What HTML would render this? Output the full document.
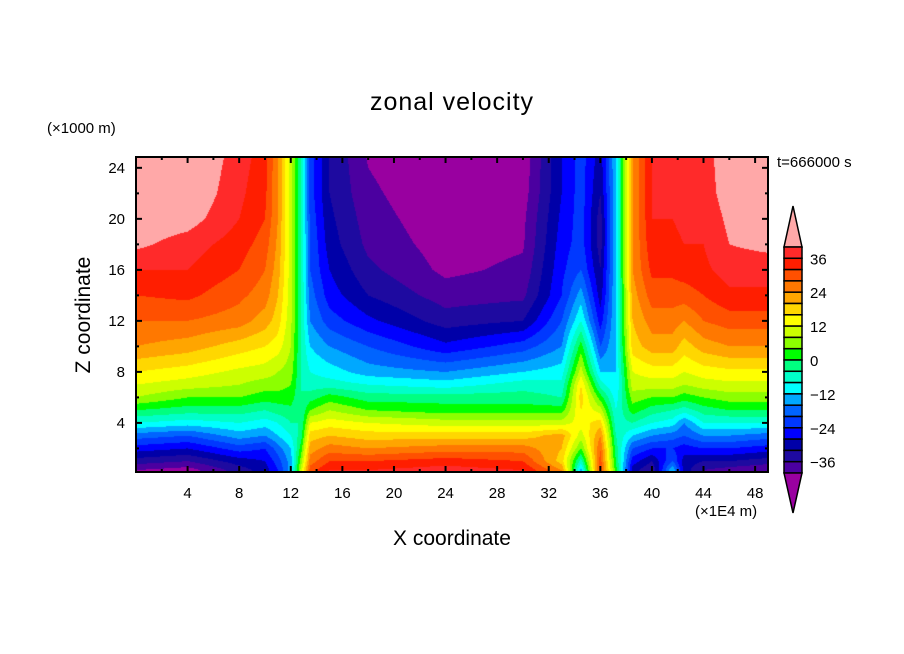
<!DOCTYPE html>
<html><head><meta charset="utf-8"><style>
body{margin:0;background:#fff;}
#wrap{position:relative;width:904px;height:654px;overflow:hidden;font-family:"Liberation Sans","DejaVu Sans",sans-serif;color:#000;}
.t{position:absolute;white-space:nowrap;}
</style></head><body>
<div id="wrap">
<div class="t" style="left:0;width:904px;top:88px;text-align:center;font-size:25px;letter-spacing:1px;">zonal velocity</div>
<div class="t" style="left:47px;top:120px;font-size:15px;">(×1000 m)</div>
<div class="t" style="left:777px;top:154px;font-size:15px;">t=666000 s</div>
<div class="t" style="left:84px;top:315px;font-size:21px;transform:translate(-50%,-50%) rotate(-90deg);">Z coordinate</div>
<div class="t" style="left:0;width:904px;top:527px;text-align:center;font-size:21px;">X coordinate</div>
<div class="t" style="left:695px;top:503px;font-size:15px;">(×1E4 m)</div>
<canvas id="cv" width="632" height="315" style="position:absolute;left:136px;top:157px;"></canvas>
<svg id="sv" width="904" height="654" style="position:absolute;left:0;top:0;"></svg>
</div>
<script>
const xCols=[0,4,8,10,11,12,12.8,13.5,15,18,24,30,33,34.5,36,37.2,38.5,40,41.6,42.5,44,46,49];
const zRows=[0.3,1,2,3,4,5,6,7,8,10,12,14,16,18,20,22,25];
const vals=[
[-40,-34,-26,-18,-8,0,8,12,16,24,28,32,36,41,43,44,45],
[-42,-36,-28,-20,-10,-2,4,10,14,22,28,33,36,38,42,44,45],
[-34,-30,-22,-14,-8,-2,4,8,11,18,26,29,32,34,36,37,38],
[-30,-28,-24,-16,-10,-4,2,6,10,16,22,26,28,30,32,33,34],
[-24,-22,-18,-12,-8,-2,2,6,8,14,18,20,22,23,24,24,24],
[-14,-14,-12,-8,-4,-1,2,4,6,8,9,10,10,10,10,10,10],
[10,6,2,-2,-4,-4,-4,-4,-4,-4,-4,-4,-4,-4,-4,-4,-4],
[30,26,22,18,12,4,-2,-6,-8,-12,-16,-18,-20,-20,-21,-22,-22],
[36,32,26,20,14,8,2,-6,-10,-16,-22,-26,-28,-30,-31,-32,-32],
[36,32,24,18,12,4,-2,-8,-14,-20,-27,-32,-35,-37,-38,-39,-40.5],
[38,34,26,18,10,2,-2,-10,-16,-27,-34,-38,-41,-42,-43,-44,-45],
[36,32,26,18,10,2,-2,-6,-12,-22,-32,-37,-39,-40.5,-41,-42,-43],
[24,18,20,22,10,2,-4,-7,-10,-16,-20,-24,-25,-26,-27,-28,-28],
[-14,-6,4,10,14,16,18,16,10,2,-8,-14,-20,-22,-22,-22,-22],
[32,30,28,24,18,10,2,-6,-12,-20,-26,-30,-32,-34,-34,-32,-30],
[2,0,-2,-4,-6,-8,-10,-12,-12,-12,-12,-12,-12,-12,-12,-12,-12],
[-30,-26,-20,-12,-4,2,6,10,12,18,20,22,24,24,24,24,24],
[-36,-32,-24,-16,-8,-2,4,10,14,22,26,30,33,35,36,36,36],
[-12,-20,-24,-18,-10,-4,4,10,14,22,26,30,33,35,36,37,37],
[-30,-30,-26,-20,-16,-6,2,8,12,18,24,30,34,36,37,37,38],
[-36,-32,-24,-16,-8,-2,4,10,14,22,28,32,35,36,37,38,38],
[-38,-32,-24,-16,-8,0,6,11,15,24,30,35,38,40,41,42,43],
[-40,-34,-26,-18,-8,0,6,11,15,24,30,35,38,41,42,43,44]];
const levelColors=["#4b00a0","#1e0aa0","#0000a8","#0000ff","#0038ff","#0064ff","#00a8ff","#00ffff","#00ffc8","#00ff80","#00ff00","#8cff00","#ccff00","#ffff00","#ffd700","#ffa500","#ff7800","#ff5000","#ff1e00","#ff2a2a"];
const lowColor="#9900a0", highColor="#ffa8a8";
const xTicks=[4,8,12,16,20,24,28,32,36,40,44,48];
const yTicks=[4,8,12,16,20,24];
const cbLabels=[36,24,12,0,-12,-24,-36];

const PX0=136,PX1=768,PY0=157,PY1=472,XMIN=0,XMAX=49,ZMIN=0.15,ZMAX=24.85;
const sx=x=>PX0+(x-XMIN)/(XMAX-XMIN)*(PX1-PX0);
const sy=z=>PY1-(z-ZMIN)/(ZMAX-ZMIN)*(PY1-PY0);
function seg(a,v){let i=0;while(i<a.length-2&&v>a[i+1])i++;let t=(v-a[i])/(a[i+1]-a[i]);return [i,Math.max(0,Math.min(1,t))];}
function field(x,z){const[i,tx]=seg(xCols,x),[j,tz]=seg(zRows,z);
const a=vals[i][j],b=vals[i+1][j],c=vals[i][j+1],d=vals[i+1][j+1];
return (a*(1-tx)+b*tx)*(1-tz)+(c*(1-tx)+d*tx)*tz;}
function colorOf(v){if(v<-40)return lowColor;if(v>=40)return highColor;return levelColors[Math.floor((v+40)/4)];}
function hex(c){return[parseInt(c.slice(1,3),16),parseInt(c.slice(3,5),16),parseInt(c.slice(5,7),16)];}
const cv=document.getElementById('cv'),ctx=cv.getContext('2d');
const W=cv.width,H=cv.height,img=ctx.createImageData(W,H);
for(let py=0;py<H;py++){const z=ZMAX-(py+0.5)/H*(ZMAX-ZMIN);
for(let px=0;px<W;px++){const x=XMIN+(px+0.5)/W*(XMAX-XMIN);
const c=hex(colorOf(field(x,z)));const k=(py*W+px)*4;
img.data[k]=c[0];img.data[k+1]=c[1];img.data[k+2]=c[2];img.data[k+3]=255;}}
ctx.putImageData(img,0,0);

const NS="http://www.w3.org/2000/svg",sv=document.getElementById('sv');
function mk(t,at,txt){const e=document.createElementNS(NS,t);for(const k in at)e.setAttribute(k,at[k]);if(txt!=null)e.textContent=txt;sv.appendChild(e);return e;}
let fr=mk('rect',{x:PX0,y:PY0,width:PX1-PX0,height:PY1-PY0,fill:'none',stroke:'#000','stroke-width':2});


for(let x=2;x<49;x+=2){const X=sx(x),L=(x%4===0)?6:3;
let t1=mk('line',{x1:X,x2:X,y1:PY1,y2:PY1-L,stroke:'#000','stroke-width':2});


let t2=mk('line',{x1:X,x2:X,y1:PY0,y2:PY0+L,stroke:'#000','stroke-width':2});

}
for(let z=2;z<25;z+=2){const Y=sy(z),L=(z%4===0)?6:3;
let t1=mk('line',{x1:PX0,x2:PX0+L,y1:Y,y2:Y,stroke:'#000','stroke-width':2});


let t2=mk('line',{x1:PX1,x2:PX1-L,y1:Y,y2:Y,stroke:'#000','stroke-width':2});

}
xTicks.forEach(v=>{let e=mk('text',{x:sx(v),y:498,'text-anchor':'middle','font-size':15,'font-family':'Liberation Sans, sans-serif'},String(v));

});
yTicks.forEach(v=>{let e=mk('text',{x:125,y:sy(v)+5,'text-anchor':'end','font-size':15,'font-family':'Liberation Sans, sans-serif'},String(v));

});
const CX0=784,CX1=802,CY0=247,CB=11.3;
let up=mk('polygon',{points:`${CX0},${CY0} ${CX1},${CY0} ${(CX0+CX1)/2},206`,fill:highColor,stroke:'#000','stroke-width':1.5});


for(let i=0;i<levelColors.length;i++){const idx=levelColors.length-1-i;
let r=mk('rect',{x:CX0,y:CY0+i*CB,width:CX1-CX0,height:CB,fill:levelColors[idx],stroke:'#000','stroke-width':1.5});

}
const CY1=CY0+levelColors.length*CB;
let dn=mk('polygon',{points:`${CX0},${CY1} ${CX1},${CY1} ${(CX0+CX1)/2},513`,fill:lowColor,stroke:'#000','stroke-width':1.5});


cbLabels.forEach(v=>{const Y=CY0+(40-v)/4*CB;
let e=mk('text',{x:810,y:Y+6,'font-size':15,'font-family':'Liberation Sans, sans-serif'},v<0?'\u2212'+(-v):String(v));

});
</script>
</body></html>
